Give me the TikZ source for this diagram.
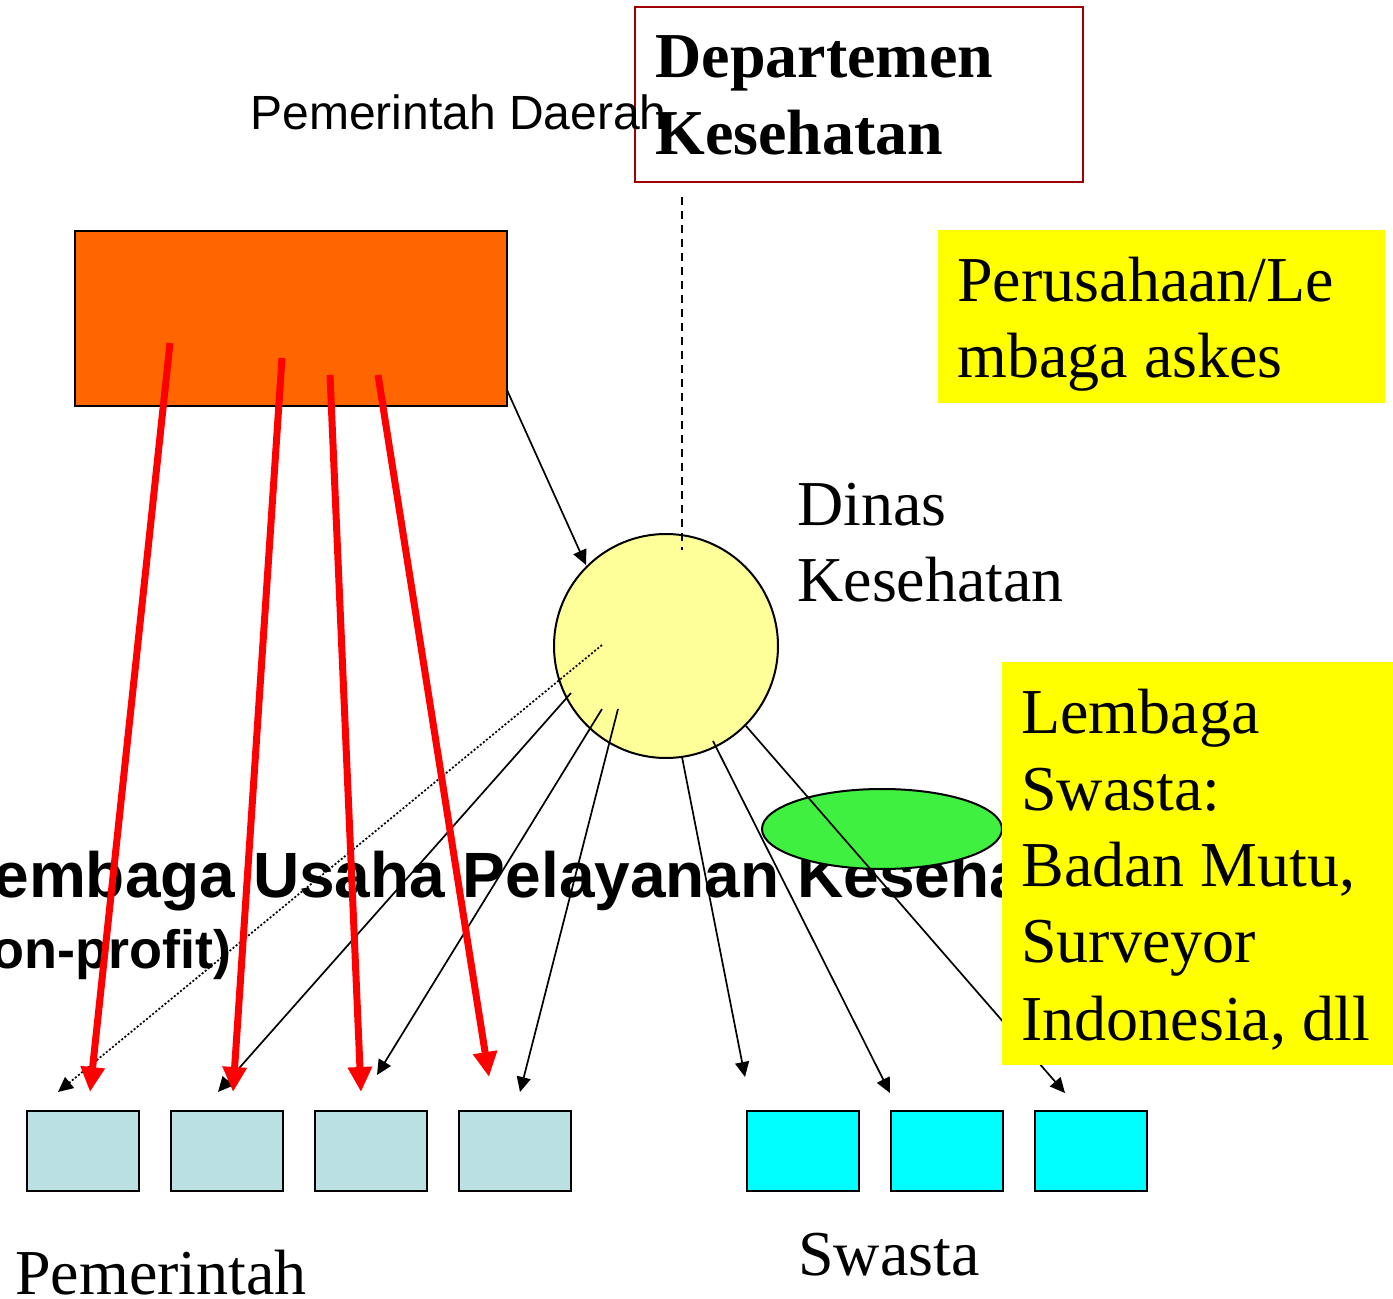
\documentclass[tikz,border=0pt]{standalone}
\usepackage{fontspec}
\setmainfont{Liberation Serif}
\newfontfamily\arialfont{Liberation Sans}
\usetikzlibrary{arrows.meta,shapes.geometric}
\definecolor{orangeA}{HTML}{FF6600}
\definecolor{circleY}{HTML}{FFFF99}
\definecolor{boxY}{HTML}{FFFF00}
\definecolor{greenE}{HTML}{40F040}
\definecolor{govB}{HTML}{BBE0E3}
\definecolor{privC}{HTML}{00FFFF}
\definecolor{deptR}{HTML}{A00000}
\begin{document}
\begin{tikzpicture}[x=0.5pt,y=-0.5pt,
  txt/.style={anchor=base west, inner sep=0pt, font=\fontsize{32}{38}\selectfont},
  boxstyle/.style={anchor=north west, inner sep=0pt, draw=black, line width=1pt},
  small/.style={boxstyle, minimum width=56pt, minimum height=40pt},
  thinarrow/.style={draw=black, line width=0.85pt, -{Triangle[length=7.5pt,width=7pt]}},
  redarrow/.style={draw=red, line width=3.5pt, -{Triangle[length=12.5pt,width=11.5pt]}}]
\clip (0,0) rectangle (1393,1299);
% top texts and boxes
\node[anchor=north west, inner sep=0pt, draw=deptR, line width=1pt, minimum width=224pt, minimum height=87.5pt] (dept) at (634,6) {};
\node[anchor=base west, inner sep=0pt, font=\arialfont\fontsize{24}{29}\selectfont] (pemda) at (250,130) {Pemerintah Daerah};
\node[txt, font=\bfseries\fontsize{32}{38}\selectfont] (dept1) at (655,78) {Departemen};
\node[txt, font=\bfseries\fontsize{32}{38}\selectfont] (dept2) at (655,155) {Kesehatan};
\node[boxstyle, fill=orangeA, minimum width=216pt, minimum height=87.5pt] (pd) at (74,230) {};
\node[anchor=north west, inner sep=0pt, fill=boxY, minimum width=223.5pt, minimum height=86.5pt] (askes) at (938,230) {};
\node[txt] (askes1) at (957,302) {Perusahaan/Le};
\node[txt] (askes2) at (957,378) {mbaga askes};
\node[txt] (dinas1) at (797,526) {Dinas};
\node[txt] (dinas2) at (797,602) {Kesehatan};
% bold label
\node[anchor=base west, inner sep=0pt, font=\arialfont\bfseries\fontsize{32}{38}\selectfont] (luk1) at (-46,897) {Lembaga Usaha Pelayanan Kesehatan};
\node[anchor=base east, inner sep=0pt, font=\arialfont\bfseries\fontsize{27}{32}\selectfont] (luk2) at (232,968) {(non-profit)};
% circle and ellipse
\node[circle, draw=black, line width=1pt, fill=circleY, minimum size=112pt, inner sep=0pt] (dinas) at (666,646) {};
\coordinate (dtop) at (682,197);
\coordinate (dbot) at (682,550);
\draw[line width=1pt, dash pattern=on 4pt off 3pt] (dtop) -- (dbot);
\node[ellipse, draw=black, line width=1pt, fill=greenE, minimum width=120pt, minimum height=40pt, inner sep=0pt] (mutu) at (882,829) {};
% bottom boxes
\node[small, fill=govB] (g1) at (26,1110) {};
\node[small, fill=govB] (g2) at (170,1110) {};
\node[small, fill=govB] (g3) at (314,1110) {};
\node[small, fill=govB] (g4) at (458,1110) {};
\node[small, fill=privC] (s1) at (746,1110) {};
\node[small, fill=privC] (s2) at (890,1110) {};
\node[small, fill=privC] (s3) at (1034,1110) {};
\node[txt] (pem) at (15,1294) {Pemerintah};
\node[txt] (swa) at (798,1275) {Swasta};
% black connectors
\coordinate (oA) at (507,390);
\coordinate (oB) at (586,565);
\draw[thinarrow] (oA) -- (oB);
\coordinate (sa) at (602,645); \coordinate (ta) at (58,1092);
\coordinate (sb) at (571,693); \coordinate (tb) at (218,1092);
\coordinate (sc) at (602,709); \coordinate (tc) at (377,1075);
\coordinate (sd) at (618,709); \coordinate (td) at (520,1092);
\coordinate (se) at (682,757); \coordinate (te) at (745,1077);
\coordinate (sf) at (713,741); \coordinate (tf) at (890,1093);
\coordinate (sg) at (746,726); \coordinate (tg) at (1065,1093);
\draw[thinarrow, dash pattern=on 1pt off 1pt] (sa) -- (ta);
\draw[thinarrow] (sb) -- (tb);
\draw[thinarrow] (sc) -- (tc);
\draw[thinarrow] (sd) -- (td);
\draw[thinarrow] (se) -- (te);
\draw[thinarrow] (sf) -- (tf);
\draw[thinarrow] (sg) -- (tg);
% yellow box private institutions
\node[anchor=north west, inner sep=0pt, fill=boxY, minimum width=200pt, minimum height=201.5pt] (lsw) at (1002,662) {};
\node[txt] (lsw1) at (1021,733) {Lembaga};
\node[txt] (lsw2) at (1021,810) {Swasta:};
\node[txt] (lsw3) at (1021,886) {Badan Mutu,};
\node[txt] (lsw4) at (1021,962) {Surveyor};
\node[txt] (lsw5) at (1021,1040) {Indonesia, dll};
% red arrows
\coordinate (r1s) at (170,343); \coordinate (r1t) at (90,1092);
\coordinate (r2s) at (282,358); \coordinate (r2t) at (233,1092);
\coordinate (r3s) at (330,375); \coordinate (r3t) at (361,1092);
\coordinate (r4s) at (378,375); \coordinate (r4t) at (489,1077);
\draw[redarrow] (r1s) -- (r1t);
\draw[redarrow] (r2s) -- (r2t);
\draw[redarrow] (r3s) -- (r3t);
\draw[redarrow] (r4s) -- (r4t);
\end{tikzpicture}
\end{document}
